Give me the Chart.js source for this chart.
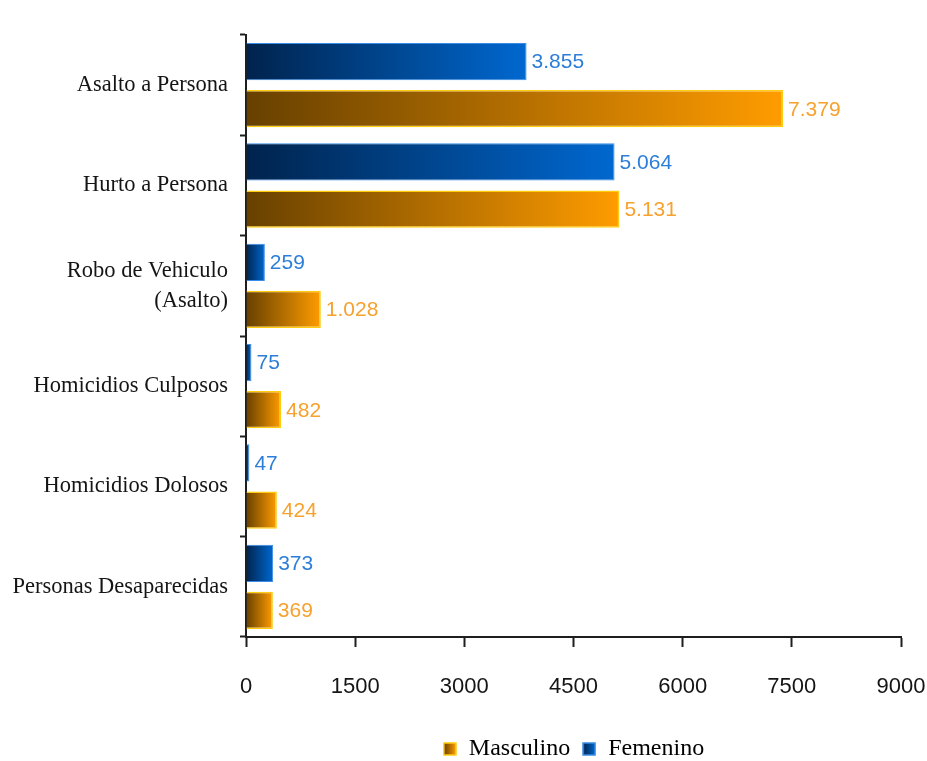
<!DOCTYPE html>
<html>
<head>
<meta charset="utf-8">
<script src="https://cdn.jsdelivr.net/npm/chart.js@4/dist/chart.umd.min.js"></script>
<style>
  html,body{margin:0;padding:0;background:#fff;}
  #wrap{width:927px;height:761px;position:relative;}
</style>
</head>
<body>
<div id="wrap"><canvas id="delitos"></canvas></div>
<script>
// ===== victimas por tipo de delito y sexo =====
const CATEGORIAS=['Asalto a Persona','Hurto a Persona',['Robo de Vehiculo','(Asalto)'],'Homicidios Culposos','Homicidios Dolosos','Personas Desaparecidas'];
const FEMENINO=[3855,5064,259,75,47,373];
const MASCULINO=[7379,5131,1028,482,424,369];
const X_MIN=0,X_MAX=9000,X_STEP=1500;

const COL={
  femDark:'#00234d',femLight:'#0068d0',femBorder:'#3a8ce6',femText:'#2c7ed8',
  masDark:'#674000',masLight:'#ff9c00',masBorder:'#ffcc10',masText:'#f7a12e',
  axis:'#1e1e1e',text:'#151515'
};

// thousands with a dot, as in 7.379
const fmt=v=>String(v).replace(/\B(?=(\d{3})+(?!\d))/g,'.');

function barGradient(c,dark,light){
  const x=c.chart.scales.x;
  if(c.type!=='data'||!x)return light;
  const x0=x.getPixelForValue(0),x1=x.getPixelForValue(c.raw);
  if(!isFinite(x0)||!isFinite(x1)||x1-x0<1)return light;
  const g=c.chart.ctx.createLinearGradient(x0,0,x1,0);
  g.addColorStop(0,dark);g.addColorStop(1,light);
  return g;
}

function swatch(dark,light,border){
  const s=document.createElement('canvas');s.width=14;s.height=14;
  const k=s.getContext('2d');
  const g=k.createLinearGradient(1,0,13,0);g.addColorStop(0,dark);g.addColorStop(1,light);
  k.fillStyle=g;k.fillRect(1,1,12,12);
  k.strokeStyle=border;k.lineWidth=1.5;k.strokeRect(1,1,12,12);
  return s;
}
const SWATCHES=[swatch(COL.femDark,COL.femLight,COL.femBorder),swatch(COL.masDark,COL.masLight,COL.masBorder)];

const valueLabels={
  id:'valueLabels',
  afterDatasetsDraw(chart){
    const ctx=chart.ctx;
    ctx.save();
    ctx.font='21px "Liberation Sans", Arial, sans-serif';
    ctx.textBaseline='middle';ctx.textAlign='left';
    chart.data.datasets.forEach((ds,i)=>{
      const meta=chart.getDatasetMeta(i);
      ctx.fillStyle=ds.labelColor;
      meta.data.forEach((el,j)=>{ctx.fillText(fmt(ds.data[j]),el.x+5,el.y+1);});
    });
    ctx.restore();
  }
};

new Chart(document.getElementById('delitos'),{
  type:'bar',
  data:{labels:CATEGORIAS,datasets:[
    {label:'Femenino',data:FEMENINO,labelColor:COL.femText,
     backgroundColor:c=>barGradient(c,COL.femDark,COL.femLight),borderColor:COL.femBorder,borderWidth:1},
    {label:'Masculino',data:MASCULINO,labelColor:COL.masText,
     backgroundColor:c=>barGradient(c,COL.masDark,COL.masLight),borderColor:COL.masBorder,borderWidth:1.5}
  ]},
  options:{
    indexAxis:'y',responsive:true,maintainAspectRatio:false,animation:false,
    categoryPercentage:0.94,barPercentage:0.79,
    layout:{padding:{top:35,left:0,right:1,bottom:-10}},
    plugins:{
      tooltip:{enabled:false},
      legend:{position:'bottom',reverse:true,fullSize:false,
        labels:{usePointStyle:true,pointStyleWidth:14,color:'#000',padding:12,
          font:{family:'"Liberation Serif","Times New Roman",serif',size:24},
          generateLabels(chart){
            const items=Chart.defaults.plugins.legend.labels.generateLabels(chart);
            items.forEach(it=>{it.pointStyle=SWATCHES[it.datasetIndex];});
            return items;
          }}}
    },
    scales:{
      x:{min:X_MIN,max:X_MAX,
        ticks:{stepSize:X_STEP,color:COL.text,padding:27,callback:v=>String(v),
          font:{family:'"Liberation Sans",Arial,sans-serif',size:22}},
        grid:{drawOnChartArea:false,drawTicks:true,tickLength:10,tickColor:COL.axis,tickWidth:2},
        border:{color:COL.axis,width:2},
        afterFit:s=>{s.height=88;s.paddingLeft=0;s.paddingRight=26;}},
      y:{
        ticks:{color:COL.text,padding:12,font:{family:'"Liberation Serif","Times New Roman",serif',size:22.5,lineHeight:1.35}},
        grid:{drawOnChartArea:false,drawTicks:true,tickLength:6,offset:true,tickColor:COL.axis,tickWidth:2},
        border:{color:COL.axis,width:2},
        afterFit:s=>{s.width=246;}}
    }
  },
  plugins:[valueLabels]
});
</script>
</body>
</html>
